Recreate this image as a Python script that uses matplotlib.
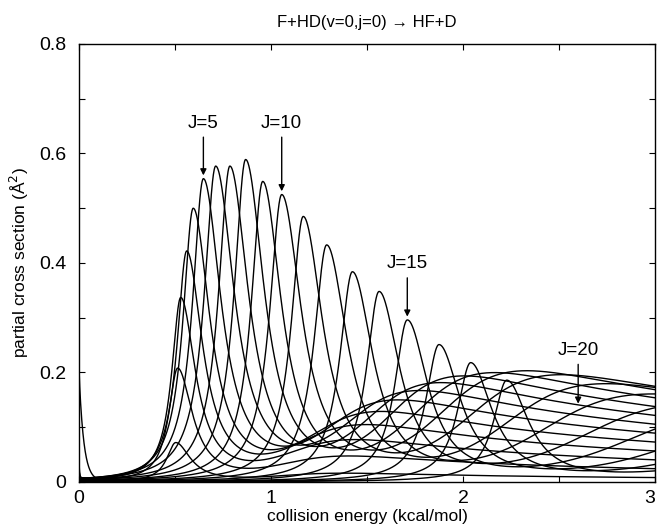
import numpy as np
import matplotlib
matplotlib.use("Agg")
import matplotlib.pyplot as plt
from matplotlib.ticker import MultipleLocator

plt.rcParams['font.family'] = ['Liberation Sans', 'DejaVu Sans']

# resonance peaks (one curve per J)
J_res = list(range(22))
E_res = [0.504, 0.514, 0.530, 0.561, 0.595, 0.648, 0.712, 0.786, 0.868, 0.957, 1.056,
         1.168, 1.290, 1.424, 1.563, 1.710, 1.875, 2.040, 2.228, 2.400, 2.600, 2.820]
H_res = [0.072, 0.208, 0.337, 0.422, 0.500, 0.554, 0.577, 0.577, 0.589, 0.549, 0.525,
         0.485, 0.433, 0.384, 0.348, 0.296, 0.251, 0.218, 0.186, 0.161, 0.137, 0.119]
W_res = [0.15, 0.15, 0.15, 0.16, 0.17, 0.18, 0.19, 0.19, 0.19, 0.19, 0.20,
         0.20, 0.21, 0.21, 0.21, 0.21, 0.22, 0.22, 0.22, 0.22, 0.22, 0.22]

# broad (direct) part of each J curve: level A/E above onset T, onset width w
J_dir = list(range(19))
A_dir = [0.024, 0.072, 0.120, 0.168, 0.216, 0.264, 0.312, 0.360, 0.408, 0.456,
         0.500, 0.520, 0.520, 0.510, 0.500, 0.500, 0.500, 0.500, 0.500]
T_dir = [1.10, 1.12, 1.15, 1.20, 1.27, 1.35, 1.45, 1.55, 1.66, 1.79,
         1.93, 2.08, 2.28, 2.48, 2.70, 2.94, 3.20, 3.45, 3.70]
w_dir = [0.14, 0.14, 0.14, 0.14, 0.14, 0.14, 0.14, 0.14, 0.14, 0.15,
         0.16, 0.17, 0.18, 0.20, 0.22, 0.24, 0.26, 0.28, 0.30]

# J=0 low-energy spike
spike_h = 0.20
spike_len = 0.025

labels = ["J=5", "J=10", "J=15", "J=20"]
lab_J = [5, 10, 15, 20]
lab_text_y = [0.640, 0.640, 0.383, 0.225]


def direct(j, E):
    if j >= len(J_dir):
        return np.zeros_like(E)
    return A_dir[j] / E * 1.0 / (1.0 + np.exp(-(E - T_dir[j]) / w_dir[j]))


def resonance(j, E, amp):
    gl = 0.38 * W_res[j]
    gr = 0.62 * W_res[j]
    g = np.where(E < E_res[j], gl, gr)
    return amp / (1.0 + ((E - E_res[j]) / g) ** 2)


E = np.linspace(0.001, 3.0, 2000)

fig = plt.figure(figsize=(6.58, 5.30), dpi=100)
ax = fig.add_axes([0.120, 0.0906, 0.8754, 0.8264])

for j in range(len(J_dir)):
    y = direct(j, E)
    if j < len(J_res):
        amp = H_res[j] - direct(j, np.array([E_res[j]]))[0]
        y = y + resonance(j, E, amp)
    if j == 0:
        y = y + spike_h * np.exp(-E / spike_len)
    ax.plot(E, y, color='k', lw=1.0)

for lab, j, ty in zip(labels, lab_J, lab_text_y):
    ax.annotate(lab, xy=(E_res[j], H_res[j] + 0.006), xytext=(E_res[j], ty),
                ha='center', va='bottom', fontsize=13.5,
                arrowprops=dict(arrowstyle='-|>', color='k', lw=1.0,
                                mutation_scale=9, shrinkA=2, shrinkB=0))

ax.set_xlim(0, 3)
ax.set_ylim(0, 0.8)
ax.set_xticks([0, 1, 2, 3], ["0", "1", "2", "3"])
ax.xaxis.set_minor_locator(MultipleLocator(0.5))
ax.set_yticks([0, 0.2, 0.4, 0.6, 0.8], ["0", "0.2", "0.4", "0.6", "0.8"])
ax.yaxis.set_minor_locator(MultipleLocator(0.1))
ax.tick_params(which='both', direction='in', top=True, right=True, length=4,
               width=0.8, labelsize=14)
ax.tick_params(axis='y', pad=9)
ax.tick_params(axis='x', pad=6)
for s in ax.spines.values():
    s.set_linewidth(1.0)
ax.xaxis.get_major_ticks()[-1].label1.set_horizontalalignment('right')

ax.set_xlabel("collision energy (kcal/mol)", fontsize=12.5, labelpad=1)
ax.set_ylabel("partial cross section (Å$^2$)", fontsize=12.5, labelpad=6)
ax.set_title("F+HD(v=0,j=0) → HF+D", fontsize=12, pad=12)

fig.savefig("out.png", dpi=100)
